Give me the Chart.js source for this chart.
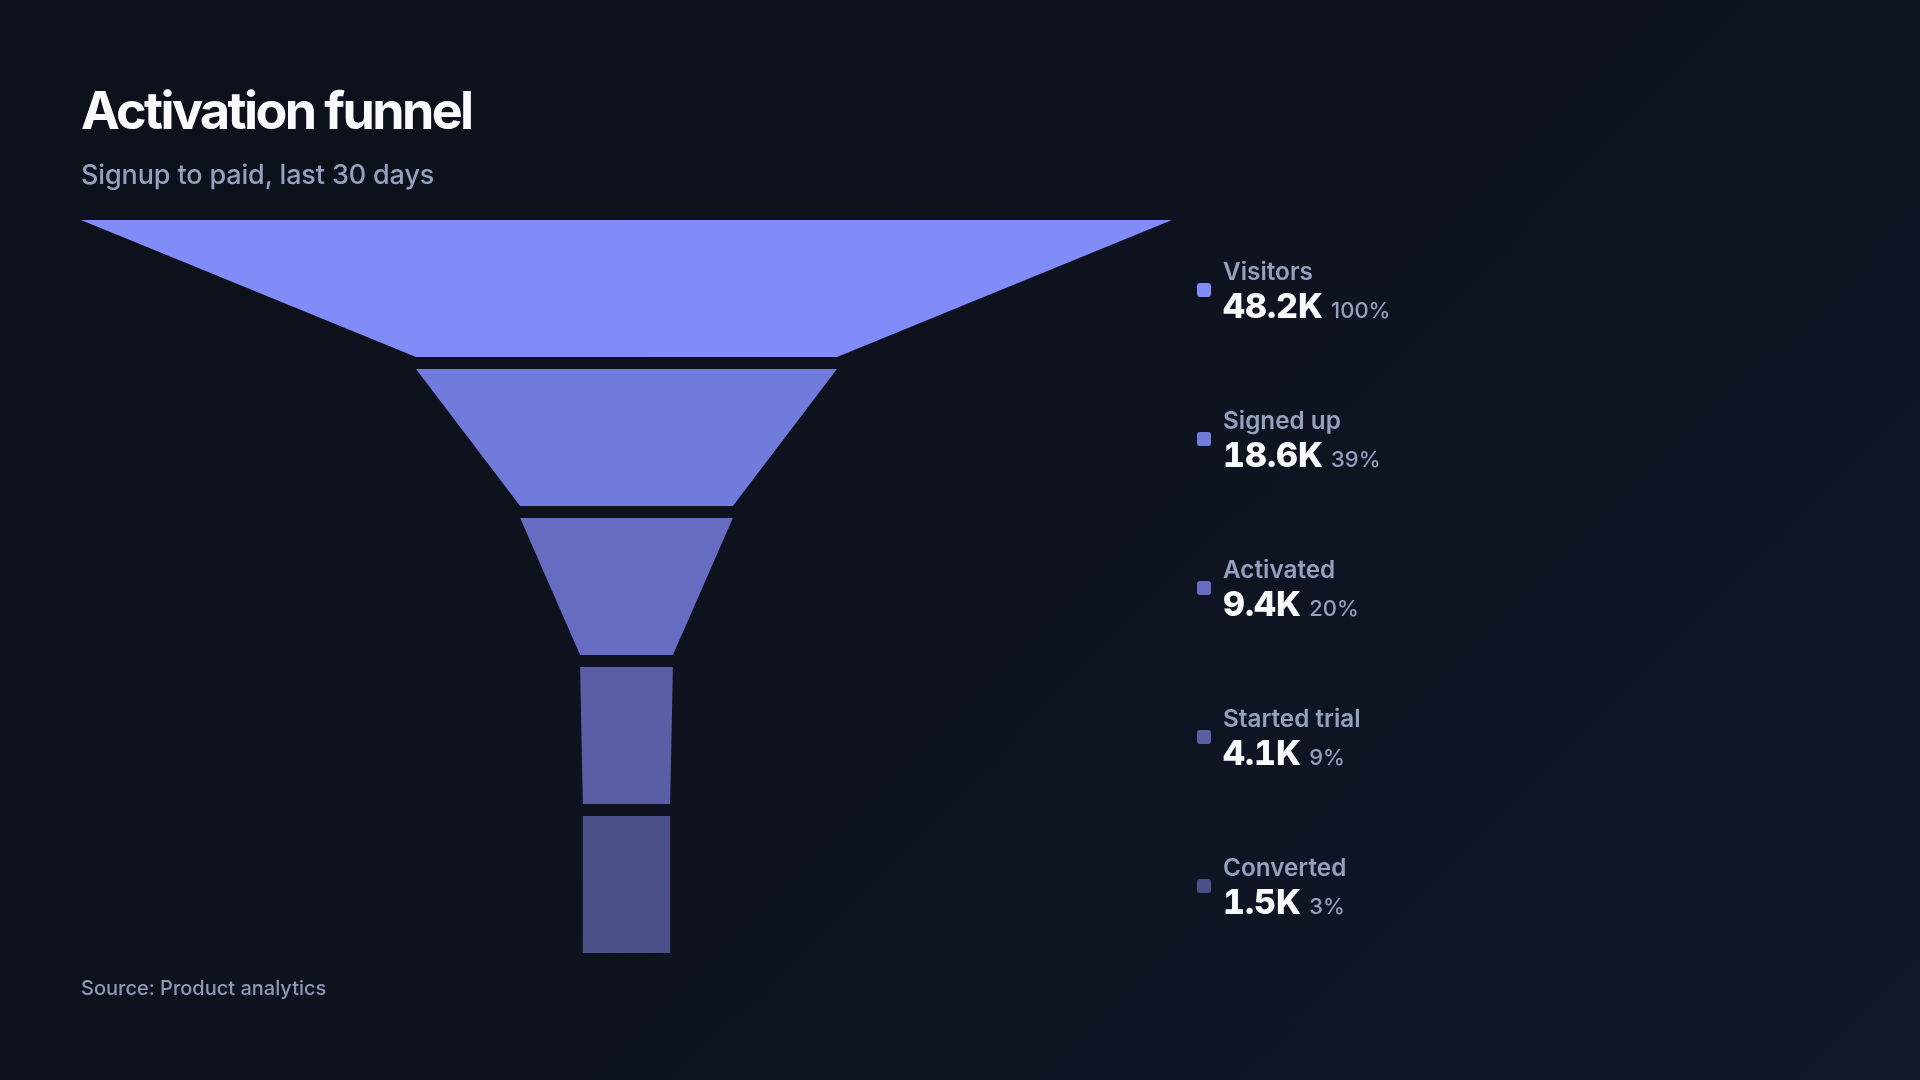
<!DOCTYPE html>
<html>
<head>
<meta charset="utf-8">
<script src="https://cdn.jsdelivr.net/npm/chart.js@4.4.1/dist/chart.umd.min.js"></script>
<style>
  html, body { margin: 0; padding: 0; }
  body {
    width: 1920px; height: 1080px; overflow: hidden; position: relative;
    background: linear-gradient(135deg, #0c101a 0%, #0e131f 50%, #101729 100%);
    font-family: Inter, "Noto Sans", sans-serif;
  }
  #chart { position: absolute; left: 0; top: 0; }
  .txt { position: absolute; white-space: nowrap; line-height: 1; }
  #title { left: 81px; top: 85px; font-size: 52px; font-weight: 700; color: #f8fafc; letter-spacing: -0.05em; }
  #subtitle { left: 81px; top: 161px; font-size: 27px; font-weight: 500; color: #94a0bd; letter-spacing: -0.005em; }
  #source { left: 81px; top: 978px; font-size: 20px; font-weight: 500; color: #8f9ab6; }
  .dot { position: absolute; width: 14px; height: 14px; border-radius: 3px; }
  .lab { font-size: 24.3px; font-weight: 600; color: #94a0bd; }
  .val { font-size: 34px; font-weight: 800; color: #f8fafc; letter-spacing: 0; font-variant-numeric: tabular-nums; }
  .val span { font-size: 22px; font-weight: 500; color: #94a0bd; margin-left: 8px; font-variant-numeric: normal; }
</style>
</head>
<body>
<canvas id="chart" width="1920" height="1080"></canvas>
<div id="title" class="txt">Activation funnel</div>
<div id="subtitle" class="txt">Signup to paid, last 30 days</div>
<div id="source" class="txt">Source: Product analytics</div>
<div id="legend"></div>
<script>
// ---- data ----
const stages = ['Visitors', 'Signed up', 'Activated', 'Started trial', 'Converted'];
const counts = [48200, 18600, 9400, 4100, 1500];
const valueLabels = ['48.2K', '18.6K', '9.4K', '4.1K', '1.5K'];
const shareLabels = ['100%', '39%', '20%', '9%', '3%'];
const stageColors = ['#818cf8', '#717bdb', '#666cc0', '#5a5fa5', '#4d518a'];

// ---- layout constants ----
const MIN_W = 0.08;     // minimum relative width of a stage
const GAP = 12 / 137;   // gap between stages, in stage heights

const widths = counts.map(c => Math.max(c / counts[0], MIN_W));
const tops = stages.map((_, i) => i * (1 + GAP));

const datasets = stages.map((name, i) => {
  const t = widths[i] / 2;
  const b = (i + 1 < widths.length ? widths[i + 1] : widths[i]) / 2;
  const y0 = tops[i], y1 = tops[i] + 1;
  return {
    label: name,
    data: [
      { x: -t, y: y0 }, { x: t, y: y0 },
      { x: b, y: y1 }, { x: -b, y: y1 }, { x: -t, y: y0 }
    ],
    showLine: true,
    fill: 'shape',
    backgroundColor: stageColors[i],
    borderColor: stageColors[i],
    borderWidth: 0,
    pointRadius: 0,
    pointHoverRadius: 0,
    tension: 0
  };
});

const legendPlugin = {
  id: 'htmlLegend',
  afterRender(chart) {
    const box = document.getElementById('legend');
    if (box.dataset.done) return;
    box.dataset.done = '1';
    const ys = chart.scales.y;
    stages.forEach((name, i) => {
      const c = ys.getPixelForValue(tops[i] + 0.5);
      const dot = document.createElement('div');
      dot.className = 'dot';
      dot.style.left = '1197px';
      dot.style.top = (c - 6) + 'px';
      dot.style.background = stageColors[i];
      box.appendChild(dot);
      const lab = document.createElement('div');
      lab.className = 'txt lab';
      lab.style.left = '1223px';
      lab.style.top = (c - 30) + 'px';
      lab.textContent = name;
      box.appendChild(lab);
      const val = document.createElement('div');
      val.className = 'txt val';
      val.style.left = '1223px';
      val.style.top = c + 'px';
      val.textContent = valueLabels[i];
      const pct = document.createElement('span');
      pct.textContent = shareLabels[i];
      val.appendChild(pct);
      box.appendChild(val);
    });
  }
};

new Chart(document.getElementById('chart'), {
  type: 'scatter',
  data: { datasets },
  options: {
    responsive: false,
    animation: false,
    devicePixelRatio: 1,
    layout: { padding: { left: 81, right: 748, top: 220, bottom: 127 } },
    scales: {
      x: { type: 'linear', min: -0.5, max: 0.5, display: false },
      y: { type: 'linear', min: 0, max: 5 + 4 * GAP, reverse: true, display: false }
    },
    plugins: { legend: { display: false }, tooltip: { enabled: false } },
    events: []
  },
  plugins: [legendPlugin]
});
</script>
</body>
</html>
